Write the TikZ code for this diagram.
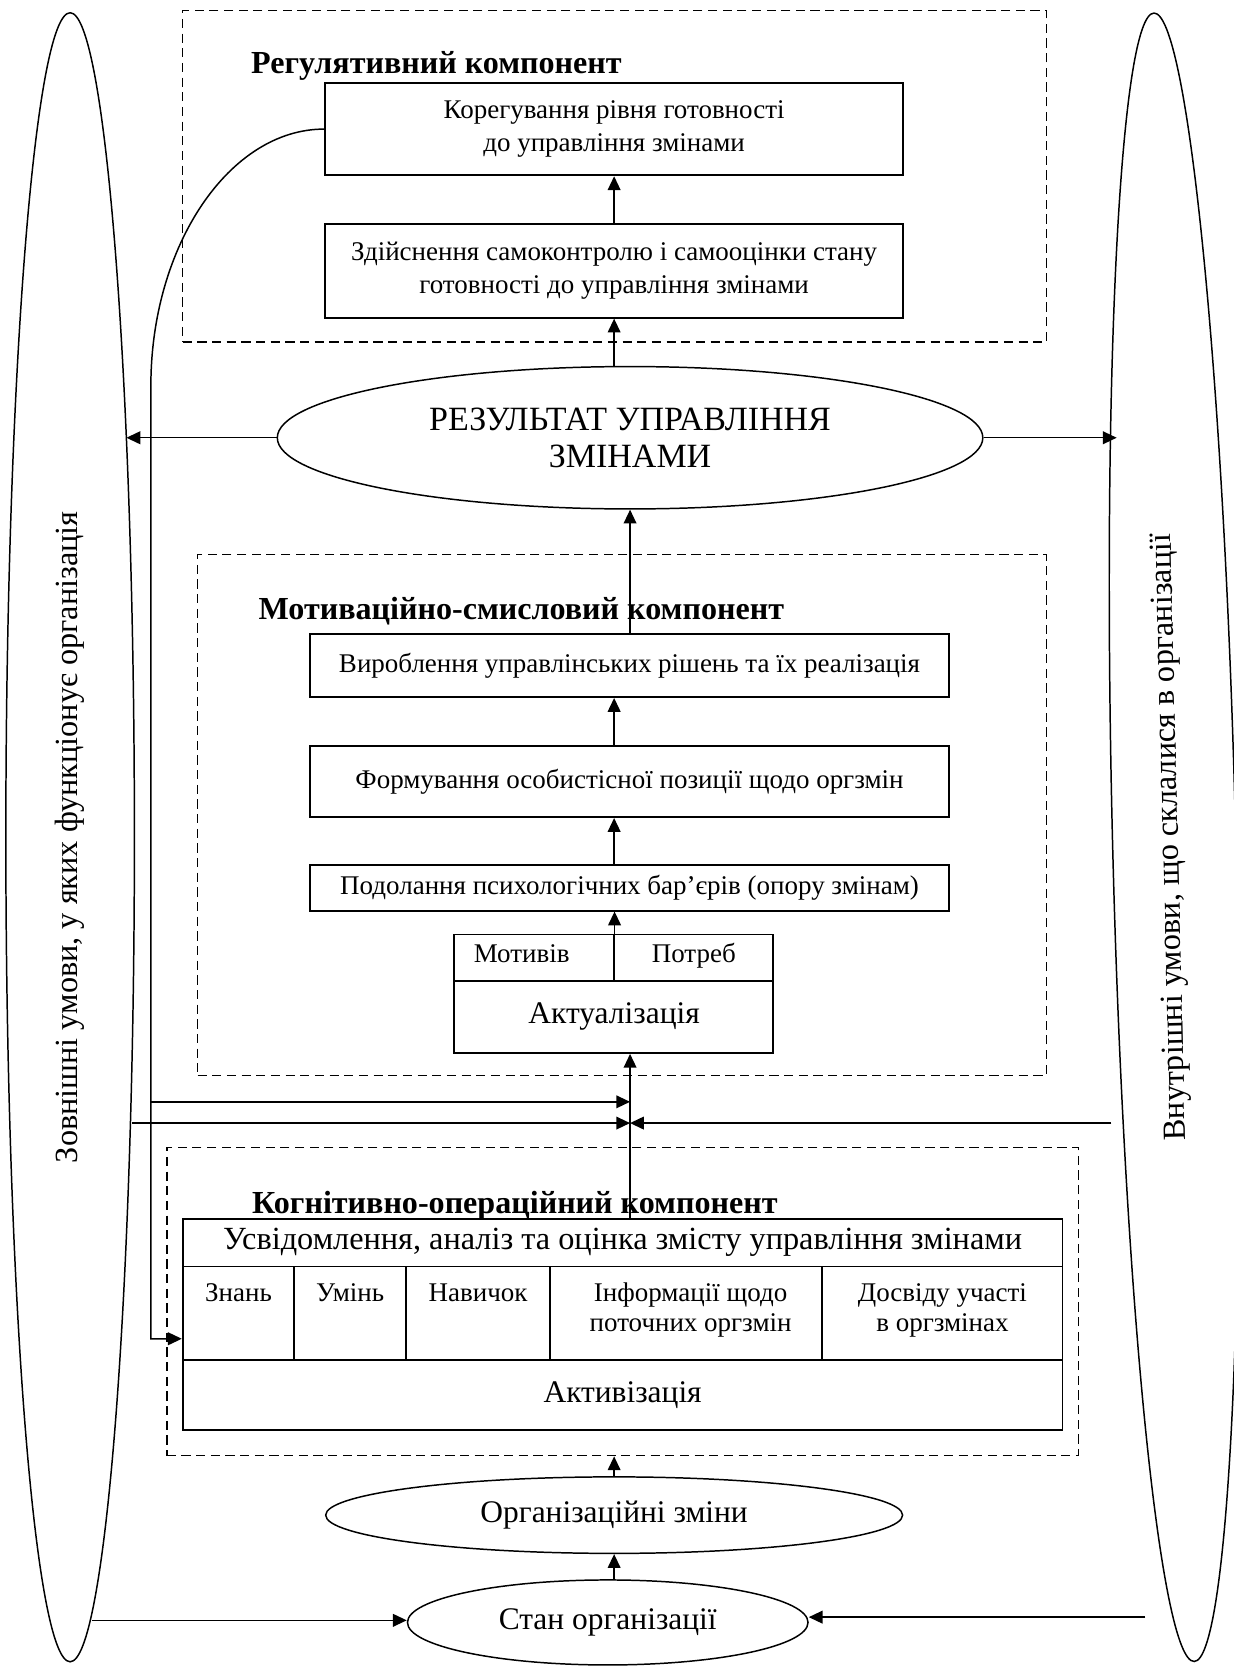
\documentclass[tikz,border=0pt]{standalone}
\usepackage{fontspec}
\setmainfont{Liberation Serif}
\usetikzlibrary{arrows.meta,shapes.geometric,calc}
\newcommand\fsz[2]{\fontsize{#1}{#2}\selectfont}
\begin{document}
\begin{tikzpicture}[x=0.5pt,y=-0.5pt,
  box/.style={draw,line width=0.9pt,inner sep=0pt,align=center},
  dbox/.style={draw,line width=0.7pt,dash pattern=on 4.3pt off 2.6pt,inner sep=0pt},
  ell/.style={draw,ellipse,line width=0.7pt,inner sep=0pt,align=center},
  arr/.style={line width=0.7pt,-{Triangle[length=6.5pt,width=6pt]}},
  ttl/.style={font=\fsz{15.1}{16}\bfseries,anchor=base west,inner sep=0pt},
  big/.style={font=\fsz{14.8}{15.8}},
  side/.style={font=\fsz{15.2}{16}},
  small/.style={font=\fsz{12.7}{15.6}},
  cellf/.style={font=\fsz{12.7}{14.2}},
  txt/.style={inner sep=0pt,align=center},
]
\useasboundingbox (0,0) rectangle (1161,1568);

% outer ellipses
\node[ell,minimum width=60.5pt,minimum height=776pt] (L) at (66,788) {};
\node[txt,side,rotate=90] (Ltxt) at (L.center) {Зовнішні умови, у яких функціонує організація};
\node[ell,rotate=1.4,minimum width=58pt,minimum height=776pt] (R) at (1105,788) {};
\node[txt,side,rotate=91.4] (Rtxt) at (1102,788) {Внутрішні умови, що склалися в організації};

% regulative component
\node[dbox,minimum width=406.5pt,minimum height=156pt] (reg) at (578.5,166) {};
\node[ttl] (t1) at (236,69) {Регулятивний компонент};
\node[box,small,minimum width=272pt,minimum height=43.5pt] (k1) at (578,121.5) {Корегування рівня готовності\\до управління змінами};
\node[box,small,minimum width=272pt,minimum height=44pt] (k2) at (578,255) {Здійснення самоконтролю і самооцінки стану\\готовності до управління змінами};
\draw[arr] (k2) -- (k1);

% result
\node[ell,font=\fsz{16}{17.5},minimum width=332pt,minimum height=67pt] (res) at (593,412) {РЕЗУЛЬТАТ УПРАВЛІННЯ\\ЗМІНАМИ};
\draw[arr] (res.north -| k2.south) -- (k2.south);
\coordinate (rl) at (119,412);
\coordinate (rr) at (1051,412);
\draw[arr] (res.west) -- (rl);
\draw[arr] (res.east) -- (rr);

% motivational component
\node[dbox,minimum width=399.5pt,minimum height=245pt] (mot) at (585.5,767) {};
\node[ttl] (t2) at (243,583) {Мотиваційно-смисловий компонент};
\node[box,small,minimum width=300.5pt,minimum height=29.5pt] (m1) at (592.5,626.5) {Вироблення управлінських рішень та їх реалізація};
\node[box,small,minimum width=300.5pt,minimum height=33.5pt] (m2) at (592.5,735.5) {Формування особистісної позиції щодо оргзмін};
\node[box,small,minimum width=300.5pt,minimum height=21.5pt] (m3) at (592.5,835.5) {Подолання психологічних бар’єрів (опору змінам)};
\coordinate (c578) at (578,0);
\draw[arr] (m2.north -| c578) -- (m1.south -| c578);
\draw[arr] (m3.north -| c578) -- (m2.south -| c578);
\draw[arr] (m1.north -| res.south) -- (res.south);

\node[box,minimum width=75pt,minimum height=22pt] (motc) at (502.5,901.5) {};
\node[box,minimum width=75pt,minimum height=22pt] (potc) at (652.5,901.5) {};
\node[txt,small,anchor=base] (motiv) at (491,906) {Мотивів};
\node[txt,small,anchor=base] (potr) at (653,906) {Потреб};
\node[box,minimum width=150pt,minimum height=33.75pt] (akt) at (577.5,957.25) {};
\node[txt,big,anchor=base] (akttxt) at (578,963) {Актуалізація};
\draw[arr] (motc.north east) -- (m3.south -| motc.north east);

% cognitive component
\node[dbox,minimum width=429pt,minimum height=145pt] (cog) at (586,1225) {};
\node[ttl] (t3) at (237,1142) {Когнітивно-операційний компонент};
\node[box,side,minimum width=414pt,minimum height=22.5pt] (usv) at (586,1169.5) {Усвідомлення, аналіз та оцінка змісту управління змінами};
\node[box,minimum width=52.5pt,minimum height=44pt] (c1) at (224.5,1236) {};
\node[box,minimum width=52.5pt,minimum height=44pt] (c2) at (329.5,1236) {};
\node[box,minimum width=68pt,minimum height=44pt] (c3) at (450,1236) {};
\node[box,minimum width=128pt,minimum height=44pt] (c4) at (646,1236) {};
\node[box,minimum width=113pt,minimum height=44pt] (c5) at (887,1236) {};
\node[txt,cellf,anchor=base] (c1t) at (224.5,1225) {Знань};
\node[txt,cellf,anchor=base] (c2t) at (329.5,1225) {Умінь};
\node[txt,cellf,anchor=base] (c3t) at (450,1225) {Навичок};
\node[txt,cellf] (c4t) at (650,1233) {Інформації щодо\\поточних оргзмін};
\node[txt,cellf] (c5t) at (887,1233) {Досвіду участі\\в оргзмінах};
\node[box,big,minimum width=414pt,minimum height=33pt] (act) at (586,1313) {Активізація};

% connectors from the left
\coordinate (mid) at (593,0);
\coordinate (lc) at (142,363);
\coordinate (lb) at (142,1260);
\coordinate (a1) at (142,1037);
\coordinate (a2) at (124,1057);
\coordinate (a3) at (1046,1057);
\draw[arr] (k1.west) .. controls (216,121.5) and (142,231) .. (lc) -- (lb) -- (lb -| c1.west);
\draw[arr] (a1) -- (a1 -| mid);
\draw[arr] (a2) -- (a2 -| mid);
\draw[arr] (a3) -- (a3 -| mid);
\draw[arr] (usv.north -| mid) -- (akt.south -| mid);

% bottom
\node[ell,big,minimum width=271.5pt,minimum height=36pt] (org) at (578,1426) {Організаційні зміни};
\node[ell,big,minimum width=188.5pt,minimum height=40pt] (stan) at (572,1527) {Стан організації};
\draw[arr] (org.north) -- (cog.south -| org.north);
\draw[arr] (stan.north -| org.south) -- (org.south);
\coordinate (sl) at (87,1525);
\coordinate (sr) at (1078,1522);
\draw[arr] (sl) -- (sl -| stan.west);
\draw[arr] (sr) -- (sr -| stan.east);
\end{tikzpicture}
\end{document}
